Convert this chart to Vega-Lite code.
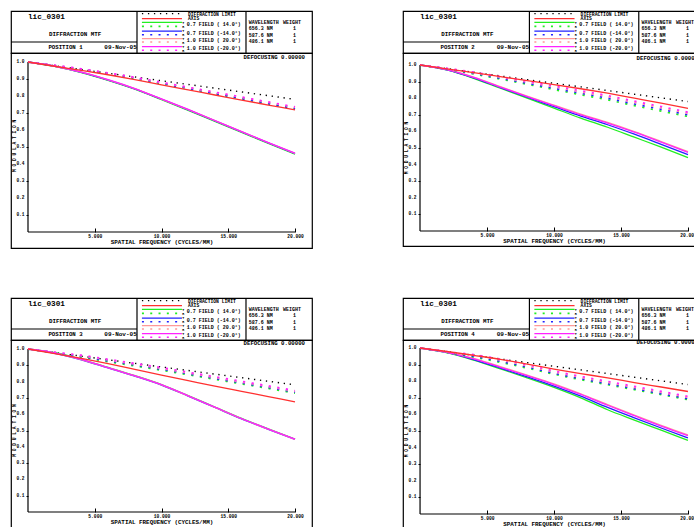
{
"$schema":"https://vega.github.io/schema/vega-lite/v6.json",
"background":"white",
"padding":{"left":9,"top":9,"right":0,"bottom":0},
"columns":2,
"bounds":"flush",
"spacing":{"row":0,"column":91},
"config":{
 "view":{"stroke":"black","strokeWidth":1.2},
 "font":"Liberation Mono",
 "text":{"font":"Liberation Mono","fontWeight":"bold","color":"black","align":"center","baseline":"middle","fontSize":5},
 "rule":{"color":"black","strokeWidth":1.2},
 "axis":{"labelFont":"Liberation Mono","titleFont":"Liberation Mono","labelFontWeight":"bold","titleFontWeight":"bold","labelColor":"black","titleColor":"black","tickColor":"black","grid":false,"domain":false,"labelOverlap":false,"labelFlush":false}
},
"datasets":{
"yt":[{"v":0.1},{"v":0.2},{"v":0.3},{"v":0.4},{"v":0.5},{"v":0.6},{"v":0.7},{"v":0.8},{"v":0.9},{"v":1.0}],
"mtf":[
{"p":1,"f":0,"DL":1,"AX":1,"T1":1,"T2":1,"T3":1,"T4":1,"R1":1,"R2":1,"R3":1,"R4":1},
{"p":1,"f":2,"DL":0.978,"AX":0.975,"T1":0.974,"T2":0.975,"T3":0.975,"T4":0.976,"R1":0.978,"R2":0.979,"R3":0.98,"R4":0.981},
{"p":1,"f":4,"DL":0.956,"AX":0.951,"T1":0.938,"T2":0.939,"T3":0.94,"T4":0.941,"R1":0.955,"R2":0.957,"R3":0.959,"R4":0.96},
{"p":1,"f":6,"DL":0.934,"AX":0.925,"T1":0.892,"T2":0.894,"T3":0.895,"T4":0.896,"R1":0.93,"R2":0.932,"R3":0.935,"R4":0.936},
{"p":1,"f":8,"DL":0.912,"AX":0.897,"T1":0.84,"T2":0.842,"T3":0.843,"T4":0.844,"R1":0.903,"R2":0.905,"R3":0.908,"R4":0.91},
{"p":1,"f":10,"DL":0.89,"AX":0.866,"T1":0.779,"T2":0.781,"T3":0.782,"T4":0.783,"R1":0.873,"R2":0.875,"R3":0.879,"R4":0.881},
{"p":1,"f":12,"DL":0.868,"AX":0.836,"T1":0.716,"T2":0.719,"T3":0.72,"T4":0.721,"R1":0.843,"R2":0.845,"R3":0.85,"R4":0.852},
{"p":1,"f":14,"DL":0.846,"AX":0.806,"T1":0.651,"T2":0.654,"T3":0.655,"T4":0.656,"R1":0.813,"R2":0.815,"R3":0.821,"R4":0.823},
{"p":1,"f":16,"DL":0.824,"AX":0.776,"T1":0.586,"T2":0.589,"T3":0.59,"T4":0.591,"R1":0.783,"R2":0.785,"R3":0.792,"R4":0.794},
{"p":1,"f":18,"DL":0.802,"AX":0.747,"T1":0.521,"T2":0.524,"T3":0.525,"T4":0.526,"R1":0.754,"R2":0.755,"R3":0.763,"R4":0.765},
{"p":1,"f":20,"DL":0.78,"AX":0.718,"T1":0.458,"T2":0.461,"T3":0.463,"T4":0.464,"R1":0.724,"R2":0.724,"R3":0.733,"R4":0.736},
{"p":2,"f":0,"DL":1,"AX":1,"T1":1,"T2":1,"T3":1,"T4":1,"R1":1,"R2":1,"R3":1,"R4":1},
{"p":2,"f":2,"DL":0.978,"AX":0.977,"T1":0.97,"T2":0.971,"T3":0.973,"T4":0.972,"R1":0.975,"R2":0.977,"R3":0.979,"R4":0.98},
{"p":2,"f":4,"DL":0.956,"AX":0.954,"T1":0.92,"T2":0.923,"T3":0.927,"T4":0.925,"R1":0.946,"R2":0.95,"R3":0.954,"R4":0.957},
{"p":2,"f":6,"DL":0.934,"AX":0.93,"T1":0.86,"T2":0.864,"T3":0.87,"T4":0.867,"R1":0.915,"R2":0.92,"R3":0.926,"R4":0.93},
{"p":2,"f":8,"DL":0.912,"AX":0.906,"T1":0.8,"T2":0.806,"T3":0.813,"T4":0.81,"R1":0.884,"R2":0.89,"R3":0.897,"R4":0.902},
{"p":2,"f":10,"DL":0.89,"AX":0.882,"T1":0.74,"T2":0.749,"T3":0.758,"T4":0.755,"R1":0.852,"R2":0.86,"R3":0.868,"R4":0.874},
{"p":2,"f":12,"DL":0.868,"AX":0.857,"T1":0.68,"T2":0.692,"T3":0.704,"T4":0.7,"R1":0.821,"R2":0.83,"R3":0.838,"R4":0.845},
{"p":2,"f":14,"DL":0.846,"AX":0.83,"T1":0.625,"T2":0.64,"T3":0.654,"T4":0.65,"R1":0.79,"R2":0.8,"R3":0.809,"R4":0.816},
{"p":2,"f":16,"DL":0.824,"AX":0.8,"T1":0.565,"T2":0.583,"T3":0.599,"T4":0.595,"R1":0.755,"R2":0.765,"R3":0.775,"R4":0.782},
{"p":2,"f":18,"DL":0.802,"AX":0.77,"T1":0.505,"T2":0.522,"T3":0.539,"T4":0.535,"R1":0.722,"R2":0.733,"R3":0.743,"R4":0.75},
{"p":2,"f":20,"DL":0.78,"AX":0.739,"T1":0.442,"T2":0.46,"T3":0.478,"T4":0.474,"R1":0.69,"R2":0.7,"R3":0.71,"R4":0.716},
{"p":3,"f":0,"DL":1,"AX":1,"T1":1,"T2":1,"T3":1,"T4":1,"R1":1,"R2":1,"R3":1,"R4":1},
{"p":3,"f":2,"DL":0.978,"AX":0.972,"T1":0.977,"T2":0.974,"T3":0.975,"T4":0.976,"R1":0.976,"R2":0.978,"R3":0.979,"R4":0.98},
{"p":3,"f":4,"DL":0.956,"AX":0.942,"T1":0.937,"T2":0.934,"T3":0.935,"T4":0.936,"R1":0.949,"R2":0.954,"R3":0.958,"R4":0.962},
{"p":3,"f":6,"DL":0.934,"AX":0.91,"T1":0.887,"T2":0.884,"T3":0.885,"T4":0.886,"R1":0.922,"R2":0.928,"R3":0.933,"R4":0.937},
{"p":3,"f":8,"DL":0.912,"AX":0.875,"T1":0.837,"T2":0.834,"T3":0.835,"T4":0.836,"R1":0.896,"R2":0.902,"R3":0.907,"R4":0.912},
{"p":3,"f":10,"DL":0.89,"AX":0.84,"T1":0.782,"T2":0.779,"T3":0.78,"T4":0.781,"R1":0.87,"R2":0.876,"R3":0.881,"R4":0.886},
{"p":3,"f":12,"DL":0.868,"AX":0.806,"T1":0.714,"T2":0.711,"T3":0.712,"T4":0.713,"R1":0.842,"R2":0.848,"R3":0.853,"R4":0.858},
{"p":3,"f":14,"DL":0.846,"AX":0.772,"T1":0.644,"T2":0.641,"T3":0.642,"T4":0.643,"R1":0.814,"R2":0.82,"R3":0.825,"R4":0.83},
{"p":3,"f":16,"DL":0.824,"AX":0.74,"T1":0.574,"T2":0.571,"T3":0.572,"T4":0.573,"R1":0.786,"R2":0.792,"R3":0.797,"R4":0.802},
{"p":3,"f":18,"DL":0.802,"AX":0.708,"T1":0.51,"T2":0.507,"T3":0.508,"T4":0.509,"R1":0.758,"R2":0.764,"R3":0.769,"R4":0.774},
{"p":3,"f":20,"DL":0.78,"AX":0.676,"T1":0.448,"T2":0.445,"T3":0.446,"T4":0.447,"R1":0.729,"R2":0.735,"R3":0.74,"R4":0.745},
{"p":4,"f":0,"DL":1,"AX":1,"T1":1,"T2":1,"T3":1,"T4":1,"R1":1,"R2":1,"R3":1,"R4":1},
{"p":4,"f":2,"DL":0.978,"AX":0.979,"T1":0.972,"T2":0.973,"T3":0.975,"T4":0.974,"R1":0.973,"R2":0.975,"R3":0.977,"R4":0.978},
{"p":4,"f":4,"DL":0.956,"AX":0.956,"T1":0.927,"T2":0.93,"T3":0.937,"T4":0.934,"R1":0.945,"R2":0.95,"R3":0.956,"R4":0.96},
{"p":4,"f":6,"DL":0.934,"AX":0.932,"T1":0.874,"T2":0.879,"T3":0.888,"T4":0.884,"R1":0.914,"R2":0.92,"R3":0.927,"R4":0.933},
{"p":4,"f":8,"DL":0.912,"AX":0.903,"T1":0.82,"T2":0.826,"T3":0.837,"T4":0.833,"R1":0.879,"R2":0.885,"R3":0.893,"R4":0.899},
{"p":4,"f":10,"DL":0.89,"AX":0.873,"T1":0.763,"T2":0.771,"T3":0.784,"T4":0.78,"R1":0.842,"R2":0.848,"R3":0.856,"R4":0.862},
{"p":4,"f":12,"DL":0.868,"AX":0.846,"T1":0.7,"T2":0.71,"T3":0.724,"T4":0.72,"R1":0.809,"R2":0.815,"R3":0.823,"R4":0.829},
{"p":4,"f":14,"DL":0.846,"AX":0.82,"T1":0.628,"T2":0.642,"T3":0.659,"T4":0.655,"R1":0.779,"R2":0.785,"R3":0.793,"R4":0.799},
{"p":4,"f":16,"DL":0.824,"AX":0.792,"T1":0.566,"T2":0.579,"T3":0.596,"T4":0.592,"R1":0.749,"R2":0.755,"R3":0.763,"R4":0.769},
{"p":4,"f":18,"DL":0.802,"AX":0.765,"T1":0.505,"T2":0.518,"T3":0.534,"T4":0.53,"R1":0.719,"R2":0.725,"R3":0.733,"R4":0.739},
{"p":4,"f":20,"DL":0.78,"AX":0.738,"T1":0.444,"T2":0.458,"T3":0.476,"T4":0.472,"R1":0.689,"R2":0.695,"R3":0.703,"R4":0.709}
]},
"concat":[
  {"width":301,"height":42,"data":{"values":[{}]},"layer":[
   {"mark":"rule","encoding":{"x":{"datum":41.86,"type":"quantitative","scale":{"domain":[0,100],"nice":false,"zero":false},"axis":null},"y":{"datum":0,"type":"quantitative","scale":{"domain":[0,100],"nice":false,"zero":false,"reverse":true},"axis":null},"y2":{"datum":100}}},
   {"mark":"rule","encoding":{"x":{"datum":78.07,"type":"quantitative","scale":{"domain":[0,100],"nice":false,"zero":false},"axis":null},"y":{"datum":0,"type":"quantitative","scale":{"domain":[0,100],"nice":false,"zero":false,"reverse":true},"axis":null},"y2":{"datum":100}}},
   {"mark":"rule","encoding":{"x":{"datum":0,"type":"quantitative","scale":{"domain":[0,100],"nice":false,"zero":false},"axis":null},"x2":{"datum":41.86},"y":{"datum":73.8,"type":"quantitative","scale":{"domain":[0,100],"nice":false,"zero":false,"reverse":true},"axis":null}}},
   {"mark":{"type":"text","text":"lic_0301","align":"left","fontSize":7.7},"encoding":{"x":{"datum":5.65,"type":"quantitative","scale":{"domain":[0,100],"nice":false,"zero":false},"axis":null},"y":{"datum":13.6,"type":"quantitative","scale":{"domain":[0,100],"nice":false,"zero":false,"reverse":true},"axis":null}}},
   {"mark":{"type":"text","text":"DIFFRACTION MTF","fontSize":5.8},"encoding":{"x":{"datum":21.3,"type":"quantitative","scale":{"domain":[0,100],"nice":false,"zero":false},"axis":null},"y":{"datum":54,"type":"quantitative","scale":{"domain":[0,100],"nice":false,"zero":false,"reverse":true},"axis":null}}},
   {"mark":{"type":"text","text":"POSITION 1","fontSize":5.7},"encoding":{"x":{"datum":18.1,"type":"quantitative","scale":{"domain":[0,100],"nice":false,"zero":false},"axis":null},"y":{"datum":85.7,"type":"quantitative","scale":{"domain":[0,100],"nice":false,"zero":false,"reverse":true},"axis":null}}},
   {"mark":{"type":"text","text":"09-Nov-05","fontSize":6},"encoding":{"x":{"datum":36.4,"type":"quantitative","scale":{"domain":[0,100],"nice":false,"zero":false},"axis":null},"y":{"datum":85.7,"type":"quantitative","scale":{"domain":[0,100],"nice":false,"zero":false,"reverse":true},"axis":null}}},
   {"mark":{"type":"rule","strokeDash":[1.3,4.7],"strokeWidth":1.3},"encoding":{"x":{"datum":43.5,"type":"quantitative","scale":{"domain":[0,100],"nice":false,"zero":false},"axis":null},"x2":{"datum":56.8},"y":{"datum":6.4,"type":"quantitative","scale":{"domain":[0,100],"nice":false,"zero":false,"reverse":true},"axis":null}}},
   {"mark":{"type":"rule","color":"#ff3030","strokeWidth":1.3},"encoding":{"x":{"datum":43.5,"type":"quantitative","scale":{"domain":[0,100],"nice":false,"zero":false},"axis":null},"x2":{"datum":56.8},"y":{"datum":18.3,"type":"quantitative","scale":{"domain":[0,100],"nice":false,"zero":false,"reverse":true},"axis":null}}},
   {"mark":{"type":"rule","color":"#22ee22","strokeWidth":1.3},"encoding":{"x":{"datum":43.5,"type":"quantitative","scale":{"domain":[0,100],"nice":false,"zero":false},"axis":null},"x2":{"datum":56.8},"y":{"datum":27,"type":"quantitative","scale":{"domain":[0,100],"nice":false,"zero":false,"reverse":true},"axis":null}}},
   {"mark":{"type":"rule","color":"#22ee22","strokeWidth":1.6,"strokeDash":[2,6.3]},"encoding":{"x":{"datum":43.5,"type":"quantitative","scale":{"domain":[0,100],"nice":false,"zero":false},"axis":null},"x2":{"datum":56.8},"y":{"datum":36.5,"type":"quantitative","scale":{"domain":[0,100],"nice":false,"zero":false,"reverse":true},"axis":null}}},
   {"mark":{"type":"rule","color":"#2222ff","strokeWidth":1.3},"encoding":{"x":{"datum":43.5,"type":"quantitative","scale":{"domain":[0,100],"nice":false,"zero":false},"axis":null},"x2":{"datum":56.8},"y":{"datum":47.7,"type":"quantitative","scale":{"domain":[0,100],"nice":false,"zero":false,"reverse":true},"axis":null}}},
   {"mark":{"type":"rule","color":"#2222ff","strokeWidth":1.6,"strokeDash":[2,6.3]},"encoding":{"x":{"datum":43.5,"type":"quantitative","scale":{"domain":[0,100],"nice":false,"zero":false},"axis":null},"x2":{"datum":56.8},"y":{"datum":56.4,"type":"quantitative","scale":{"domain":[0,100],"nice":false,"zero":false,"reverse":true},"axis":null}}},
   {"mark":{"type":"rule","color":"#ff9999","strokeWidth":1.3},"encoding":{"x":{"datum":43.5,"type":"quantitative","scale":{"domain":[0,100],"nice":false,"zero":false},"axis":null},"x2":{"datum":56.8},"y":{"datum":65.9,"type":"quantitative","scale":{"domain":[0,100],"nice":false,"zero":false,"reverse":true},"axis":null}}},
   {"mark":{"type":"rule","color":"#ff9999","strokeWidth":1.6,"strokeDash":[2,6.3]},"encoding":{"x":{"datum":43.5,"type":"quantitative","scale":{"domain":[0,100],"nice":false,"zero":false},"axis":null},"x2":{"datum":56.8},"y":{"datum":73.9,"type":"quantitative","scale":{"domain":[0,100],"nice":false,"zero":false,"reverse":true},"axis":null}}},
   {"mark":{"type":"rule","color":"#ff22ff","strokeWidth":1.3},"encoding":{"x":{"datum":43.5,"type":"quantitative","scale":{"domain":[0,100],"nice":false,"zero":false},"axis":null},"x2":{"datum":56.8},"y":{"datum":85,"type":"quantitative","scale":{"domain":[0,100],"nice":false,"zero":false,"reverse":true},"axis":null}}},
   {"mark":{"type":"rule","color":"#ff22ff","strokeWidth":1.6,"strokeDash":[2,6.3]},"encoding":{"x":{"datum":43.5,"type":"quantitative","scale":{"domain":[0,100],"nice":false,"zero":false},"axis":null},"x2":{"datum":56.8},"y":{"datum":93.6,"type":"quantitative","scale":{"domain":[0,100],"nice":false,"zero":false,"reverse":true},"axis":null}}},
   {"mark":{"type":"text","text":["DIFFRACTION LIMIT","AXIS"],"align":"left","baseline":"top","fontSize":4.7,"lineHeight":4.6},"encoding":{"x":{"datum":58.8,"type":"quantitative","scale":{"domain":[0,100],"nice":false,"zero":false},"axis":null},"y":{"datum":1.5,"type":"quantitative","scale":{"domain":[0,100],"nice":false,"zero":false,"reverse":true},"axis":null}}},
   {"mark":{"type":"text","text":"0.7 FIELD ( 14.0°)","align":"left","fontSize":5},"encoding":{"x":{"datum":58.4,"type":"quantitative","scale":{"domain":[0,100],"nice":false,"zero":false},"axis":null},"y":{"datum":31,"type":"quantitative","scale":{"domain":[0,100],"nice":false,"zero":false,"reverse":true},"axis":null}}},
   {"mark":{"type":"text","text":"0.7 FIELD (-14.0°)","align":"left","fontSize":5},"encoding":{"x":{"datum":58.4,"type":"quantitative","scale":{"domain":[0,100],"nice":false,"zero":false},"axis":null},"y":{"datum":51.6,"type":"quantitative","scale":{"domain":[0,100],"nice":false,"zero":false,"reverse":true},"axis":null}}},
   {"mark":{"type":"text","text":"1.0 FIELD ( 20.0°)","align":"left","fontSize":5},"encoding":{"x":{"datum":58.4,"type":"quantitative","scale":{"domain":[0,100],"nice":false,"zero":false},"axis":null},"y":{"datum":70,"type":"quantitative","scale":{"domain":[0,100],"nice":false,"zero":false,"reverse":true},"axis":null}}},
   {"mark":{"type":"text","text":"1.0 FIELD (-20.0°)","align":"left","fontSize":5},"encoding":{"x":{"datum":58.4,"type":"quantitative","scale":{"domain":[0,100],"nice":false,"zero":false},"axis":null},"y":{"datum":88,"type":"quantitative","scale":{"domain":[0,100],"nice":false,"zero":false,"reverse":true},"axis":null}}},
   {"mark":{"type":"text","text":["T","R"],"baseline":"top","fontSize":3.3,"lineHeight":4},"encoding":{"x":{"datum":57.2,"type":"quantitative","scale":{"domain":[0,100],"nice":false,"zero":false},"axis":null},"y":{"datum":23.4,"type":"quantitative","scale":{"domain":[0,100],"nice":false,"zero":false,"reverse":true},"axis":null}}},
   {"mark":{"type":"text","text":["T","R"],"baseline":"top","fontSize":3.3,"lineHeight":4},"encoding":{"x":{"datum":57.2,"type":"quantitative","scale":{"domain":[0,100],"nice":false,"zero":false},"axis":null},"y":{"datum":44,"type":"quantitative","scale":{"domain":[0,100],"nice":false,"zero":false,"reverse":true},"axis":null}}},
   {"mark":{"type":"text","text":["T","R"],"baseline":"top","fontSize":3.3,"lineHeight":4},"encoding":{"x":{"datum":57.2,"type":"quantitative","scale":{"domain":[0,100],"nice":false,"zero":false},"axis":null},"y":{"datum":62.4,"type":"quantitative","scale":{"domain":[0,100],"nice":false,"zero":false,"reverse":true},"axis":null}}},
   {"mark":{"type":"text","text":["T","R"],"baseline":"top","fontSize":3.3,"lineHeight":4},"encoding":{"x":{"datum":57.2,"type":"quantitative","scale":{"domain":[0,100],"nice":false,"zero":false},"axis":null},"y":{"datum":81.4,"type":"quantitative","scale":{"domain":[0,100],"nice":false,"zero":false,"reverse":true},"axis":null}}},
   {"mark":{"type":"text","text":"WAVELENGTH","align":"left","fontSize":5},"encoding":{"x":{"datum":79,"type":"quantitative","scale":{"domain":[0,100],"nice":false,"zero":false},"axis":null},"y":{"datum":26.2,"type":"quantitative","scale":{"domain":[0,100],"nice":false,"zero":false,"reverse":true},"axis":null}}},
   {"mark":{"type":"text","text":"WEIGHT","align":"left","fontSize":5},"encoding":{"x":{"datum":90.4,"type":"quantitative","scale":{"domain":[0,100],"nice":false,"zero":false},"axis":null},"y":{"datum":26.2,"type":"quantitative","scale":{"domain":[0,100],"nice":false,"zero":false,"reverse":true},"axis":null}}},
   {"mark":{"type":"text","text":["656.3 NM","587.6 NM","486.1 NM"],"align":"left","baseline":"top","fontSize":5,"lineHeight":6.9},"encoding":{"x":{"datum":79,"type":"quantitative","scale":{"domain":[0,100],"nice":false,"zero":false},"axis":null},"y":{"datum":35,"type":"quantitative","scale":{"domain":[0,100],"nice":false,"zero":false,"reverse":true},"axis":null}}},
   {"mark":{"type":"text","text":["1","1","1"],"align":"left","baseline":"top","fontSize":5,"lineHeight":6.9},"encoding":{"x":{"datum":93.7,"type":"quantitative","scale":{"domain":[0,100],"nice":false,"zero":false},"axis":null},"y":{"datum":35,"type":"quantitative","scale":{"domain":[0,100],"nice":false,"zero":false,"reverse":true},"axis":null}}}
  ]},
  {"width":302,"height":42,"data":{"values":[{}]},"layer":[
   {"mark":"rule","encoding":{"x":{"datum":41.86,"type":"quantitative","scale":{"domain":[0,100],"nice":false,"zero":false},"axis":null},"y":{"datum":0,"type":"quantitative","scale":{"domain":[0,100],"nice":false,"zero":false,"reverse":true},"axis":null},"y2":{"datum":100}}},
   {"mark":"rule","encoding":{"x":{"datum":78.07,"type":"quantitative","scale":{"domain":[0,100],"nice":false,"zero":false},"axis":null},"y":{"datum":0,"type":"quantitative","scale":{"domain":[0,100],"nice":false,"zero":false,"reverse":true},"axis":null},"y2":{"datum":100}}},
   {"mark":"rule","encoding":{"x":{"datum":0,"type":"quantitative","scale":{"domain":[0,100],"nice":false,"zero":false},"axis":null},"x2":{"datum":41.86},"y":{"datum":73.8,"type":"quantitative","scale":{"domain":[0,100],"nice":false,"zero":false,"reverse":true},"axis":null}}},
   {"mark":{"type":"text","text":"lic_0301","align":"left","fontSize":7.7},"encoding":{"x":{"datum":5.65,"type":"quantitative","scale":{"domain":[0,100],"nice":false,"zero":false},"axis":null},"y":{"datum":13.6,"type":"quantitative","scale":{"domain":[0,100],"nice":false,"zero":false,"reverse":true},"axis":null}}},
   {"mark":{"type":"text","text":"DIFFRACTION MTF","fontSize":5.8},"encoding":{"x":{"datum":21.3,"type":"quantitative","scale":{"domain":[0,100],"nice":false,"zero":false},"axis":null},"y":{"datum":54,"type":"quantitative","scale":{"domain":[0,100],"nice":false,"zero":false,"reverse":true},"axis":null}}},
   {"mark":{"type":"text","text":"POSITION 2","fontSize":5.7},"encoding":{"x":{"datum":18.1,"type":"quantitative","scale":{"domain":[0,100],"nice":false,"zero":false},"axis":null},"y":{"datum":85.7,"type":"quantitative","scale":{"domain":[0,100],"nice":false,"zero":false,"reverse":true},"axis":null}}},
   {"mark":{"type":"text","text":"09-Nov-05","fontSize":6},"encoding":{"x":{"datum":36.4,"type":"quantitative","scale":{"domain":[0,100],"nice":false,"zero":false},"axis":null},"y":{"datum":85.7,"type":"quantitative","scale":{"domain":[0,100],"nice":false,"zero":false,"reverse":true},"axis":null}}},
   {"mark":{"type":"rule","strokeDash":[1.3,4.7],"strokeWidth":1.3},"encoding":{"x":{"datum":43.5,"type":"quantitative","scale":{"domain":[0,100],"nice":false,"zero":false},"axis":null},"x2":{"datum":56.8},"y":{"datum":6.4,"type":"quantitative","scale":{"domain":[0,100],"nice":false,"zero":false,"reverse":true},"axis":null}}},
   {"mark":{"type":"rule","color":"#ff3030","strokeWidth":1.3},"encoding":{"x":{"datum":43.5,"type":"quantitative","scale":{"domain":[0,100],"nice":false,"zero":false},"axis":null},"x2":{"datum":56.8},"y":{"datum":18.3,"type":"quantitative","scale":{"domain":[0,100],"nice":false,"zero":false,"reverse":true},"axis":null}}},
   {"mark":{"type":"rule","color":"#22ee22","strokeWidth":1.3},"encoding":{"x":{"datum":43.5,"type":"quantitative","scale":{"domain":[0,100],"nice":false,"zero":false},"axis":null},"x2":{"datum":56.8},"y":{"datum":27,"type":"quantitative","scale":{"domain":[0,100],"nice":false,"zero":false,"reverse":true},"axis":null}}},
   {"mark":{"type":"rule","color":"#22ee22","strokeWidth":1.6,"strokeDash":[2,6.3]},"encoding":{"x":{"datum":43.5,"type":"quantitative","scale":{"domain":[0,100],"nice":false,"zero":false},"axis":null},"x2":{"datum":56.8},"y":{"datum":36.5,"type":"quantitative","scale":{"domain":[0,100],"nice":false,"zero":false,"reverse":true},"axis":null}}},
   {"mark":{"type":"rule","color":"#2222ff","strokeWidth":1.3},"encoding":{"x":{"datum":43.5,"type":"quantitative","scale":{"domain":[0,100],"nice":false,"zero":false},"axis":null},"x2":{"datum":56.8},"y":{"datum":47.7,"type":"quantitative","scale":{"domain":[0,100],"nice":false,"zero":false,"reverse":true},"axis":null}}},
   {"mark":{"type":"rule","color":"#2222ff","strokeWidth":1.6,"strokeDash":[2,6.3]},"encoding":{"x":{"datum":43.5,"type":"quantitative","scale":{"domain":[0,100],"nice":false,"zero":false},"axis":null},"x2":{"datum":56.8},"y":{"datum":56.4,"type":"quantitative","scale":{"domain":[0,100],"nice":false,"zero":false,"reverse":true},"axis":null}}},
   {"mark":{"type":"rule","color":"#ff9999","strokeWidth":1.3},"encoding":{"x":{"datum":43.5,"type":"quantitative","scale":{"domain":[0,100],"nice":false,"zero":false},"axis":null},"x2":{"datum":56.8},"y":{"datum":65.9,"type":"quantitative","scale":{"domain":[0,100],"nice":false,"zero":false,"reverse":true},"axis":null}}},
   {"mark":{"type":"rule","color":"#ff9999","strokeWidth":1.6,"strokeDash":[2,6.3]},"encoding":{"x":{"datum":43.5,"type":"quantitative","scale":{"domain":[0,100],"nice":false,"zero":false},"axis":null},"x2":{"datum":56.8},"y":{"datum":73.9,"type":"quantitative","scale":{"domain":[0,100],"nice":false,"zero":false,"reverse":true},"axis":null}}},
   {"mark":{"type":"rule","color":"#ff22ff","strokeWidth":1.3},"encoding":{"x":{"datum":43.5,"type":"quantitative","scale":{"domain":[0,100],"nice":false,"zero":false},"axis":null},"x2":{"datum":56.8},"y":{"datum":85,"type":"quantitative","scale":{"domain":[0,100],"nice":false,"zero":false,"reverse":true},"axis":null}}},
   {"mark":{"type":"rule","color":"#ff22ff","strokeWidth":1.6,"strokeDash":[2,6.3]},"encoding":{"x":{"datum":43.5,"type":"quantitative","scale":{"domain":[0,100],"nice":false,"zero":false},"axis":null},"x2":{"datum":56.8},"y":{"datum":93.6,"type":"quantitative","scale":{"domain":[0,100],"nice":false,"zero":false,"reverse":true},"axis":null}}},
   {"mark":{"type":"text","text":["DIFFRACTION LIMIT","AXIS"],"align":"left","baseline":"top","fontSize":4.7,"lineHeight":4.6},"encoding":{"x":{"datum":58.8,"type":"quantitative","scale":{"domain":[0,100],"nice":false,"zero":false},"axis":null},"y":{"datum":1.5,"type":"quantitative","scale":{"domain":[0,100],"nice":false,"zero":false,"reverse":true},"axis":null}}},
   {"mark":{"type":"text","text":"0.7 FIELD ( 14.0°)","align":"left","fontSize":5},"encoding":{"x":{"datum":58.4,"type":"quantitative","scale":{"domain":[0,100],"nice":false,"zero":false},"axis":null},"y":{"datum":31,"type":"quantitative","scale":{"domain":[0,100],"nice":false,"zero":false,"reverse":true},"axis":null}}},
   {"mark":{"type":"text","text":"0.7 FIELD (-14.0°)","align":"left","fontSize":5},"encoding":{"x":{"datum":58.4,"type":"quantitative","scale":{"domain":[0,100],"nice":false,"zero":false},"axis":null},"y":{"datum":51.6,"type":"quantitative","scale":{"domain":[0,100],"nice":false,"zero":false,"reverse":true},"axis":null}}},
   {"mark":{"type":"text","text":"1.0 FIELD ( 20.0°)","align":"left","fontSize":5},"encoding":{"x":{"datum":58.4,"type":"quantitative","scale":{"domain":[0,100],"nice":false,"zero":false},"axis":null},"y":{"datum":70,"type":"quantitative","scale":{"domain":[0,100],"nice":false,"zero":false,"reverse":true},"axis":null}}},
   {"mark":{"type":"text","text":"1.0 FIELD (-20.0°)","align":"left","fontSize":5},"encoding":{"x":{"datum":58.4,"type":"quantitative","scale":{"domain":[0,100],"nice":false,"zero":false},"axis":null},"y":{"datum":88,"type":"quantitative","scale":{"domain":[0,100],"nice":false,"zero":false,"reverse":true},"axis":null}}},
   {"mark":{"type":"text","text":["T","R"],"baseline":"top","fontSize":3.3,"lineHeight":4},"encoding":{"x":{"datum":57.2,"type":"quantitative","scale":{"domain":[0,100],"nice":false,"zero":false},"axis":null},"y":{"datum":23.4,"type":"quantitative","scale":{"domain":[0,100],"nice":false,"zero":false,"reverse":true},"axis":null}}},
   {"mark":{"type":"text","text":["T","R"],"baseline":"top","fontSize":3.3,"lineHeight":4},"encoding":{"x":{"datum":57.2,"type":"quantitative","scale":{"domain":[0,100],"nice":false,"zero":false},"axis":null},"y":{"datum":44,"type":"quantitative","scale":{"domain":[0,100],"nice":false,"zero":false,"reverse":true},"axis":null}}},
   {"mark":{"type":"text","text":["T","R"],"baseline":"top","fontSize":3.3,"lineHeight":4},"encoding":{"x":{"datum":57.2,"type":"quantitative","scale":{"domain":[0,100],"nice":false,"zero":false},"axis":null},"y":{"datum":62.4,"type":"quantitative","scale":{"domain":[0,100],"nice":false,"zero":false,"reverse":true},"axis":null}}},
   {"mark":{"type":"text","text":["T","R"],"baseline":"top","fontSize":3.3,"lineHeight":4},"encoding":{"x":{"datum":57.2,"type":"quantitative","scale":{"domain":[0,100],"nice":false,"zero":false},"axis":null},"y":{"datum":81.4,"type":"quantitative","scale":{"domain":[0,100],"nice":false,"zero":false,"reverse":true},"axis":null}}},
   {"mark":{"type":"text","text":"WAVELENGTH","align":"left","fontSize":5},"encoding":{"x":{"datum":79,"type":"quantitative","scale":{"domain":[0,100],"nice":false,"zero":false},"axis":null},"y":{"datum":26.2,"type":"quantitative","scale":{"domain":[0,100],"nice":false,"zero":false,"reverse":true},"axis":null}}},
   {"mark":{"type":"text","text":"WEIGHT","align":"left","fontSize":5},"encoding":{"x":{"datum":90.4,"type":"quantitative","scale":{"domain":[0,100],"nice":false,"zero":false},"axis":null},"y":{"datum":26.2,"type":"quantitative","scale":{"domain":[0,100],"nice":false,"zero":false,"reverse":true},"axis":null}}},
   {"mark":{"type":"text","text":["656.3 NM","587.6 NM","486.1 NM"],"align":"left","baseline":"top","fontSize":5,"lineHeight":6.9},"encoding":{"x":{"datum":79,"type":"quantitative","scale":{"domain":[0,100],"nice":false,"zero":false},"axis":null},"y":{"datum":35,"type":"quantitative","scale":{"domain":[0,100],"nice":false,"zero":false,"reverse":true},"axis":null}}},
   {"mark":{"type":"text","text":["1","1","1"],"align":"left","baseline":"top","fontSize":5,"lineHeight":6.9},"encoding":{"x":{"datum":93.7,"type":"quantitative","scale":{"domain":[0,100],"nice":false,"zero":false},"axis":null},"y":{"datum":35,"type":"quantitative","scale":{"domain":[0,100],"nice":false,"zero":false,"reverse":true},"axis":null}}}
  ]},
  {"width":301,"height":195,"layer":[
   {"data":{"values":[{}]},"mark":"rule","encoding":{"x":{"datum":0,"type":"quantitative","scale":{"domain":[-1.273,21.273],"nice":false,"zero":false},"title":"SPATIAL FREQUENCY (CYCLES/MM)","axis":{"values":[5,10,15,20],"format":".3f","offset":-16,"tickSize":-4,"tickWidth":1,"labelPadding":5.5,"labelFontSize":4.6,"labelFlush":false,"labelOverlap":false,"titleFontSize":5.9,"titlePadding":0.5}},"y":{"datum":0,"type":"quantitative","scale":{"domain":[-0.094,1.053],"nice":false,"zero":false},"title":null,"axis":{"values":[0.1,0.2,0.3,0.4,0.5,0.6,0.7,0.8,0.9,1],"labels":false,"offset":-17,"tickSize":2,"tickWidth":1}},"y2":{"datum":1}}},
   {"data":{"values":[{}]},"mark":"rule","encoding":{"x":{"datum":0,"type":"quantitative","scale":{"domain":[-1.273,21.273],"nice":false,"zero":false},"title":"SPATIAL FREQUENCY (CYCLES/MM)"},"x2":{"datum":20},"y":{"datum":0,"type":"quantitative","scale":{"domain":[-0.094,1.053],"nice":false,"zero":false},"title":null}}},
   {"data":{"name":"yt"},"mark":{"type":"text","align":"right","fontSize":4.5},"encoding":{"x":{"datum":-0.26,"type":"quantitative","scale":{"domain":[-1.273,21.273],"nice":false,"zero":false},"title":"SPATIAL FREQUENCY (CYCLES/MM)"},"y":{"field":"v","type":"quantitative","scale":{"domain":[-0.094,1.053],"nice":false,"zero":false},"title":null},"text":{"field":"v","type":"quantitative","format":".1f"}}},
   {"data":{"values":[{}]},"mark":{"type":"text","text":"M O D U L A T I O N","angle":270,"fontSize":4.6},"encoding":{"x":{"datum":-0.97,"type":"quantitative","scale":{"domain":[-1.273,21.273],"nice":false,"zero":false},"title":"SPATIAL FREQUENCY (CYCLES/MM)"},"y":{"datum":0.507,"type":"quantitative","scale":{"domain":[-0.094,1.053],"nice":false,"zero":false},"title":null}}},
   {"data":{"values":[{}]},"mark":{"type":"text","text":"DEFOCUSING 0.00000","align":"right","fontSize":5.7},"encoding":{"x":{"datum":20.75,"type":"quantitative","scale":{"domain":[-1.273,21.273],"nice":false,"zero":false},"title":"SPATIAL FREQUENCY (CYCLES/MM)"},"y":{"datum":1.029,"type":"quantitative","scale":{"domain":[-0.094,1.053],"nice":false,"zero":false},"title":null}}},
   {"data":{"name":"mtf"},"transform":[{"filter":"datum.p==1"}],"mark":{"type":"line","color":"black","strokeDash":[1.3,4.7],"strokeWidth":1.4,"interpolate":"monotone"},"encoding":{"x":{"field":"f","type":"quantitative","scale":{"domain":[-1.273,21.273],"nice":false,"zero":false},"title":"SPATIAL FREQUENCY (CYCLES/MM)"},"y":{"field":"DL","type":"quantitative","scale":{"domain":[-0.094,1.053],"nice":false,"zero":false},"title":null}}},
   {"data":{"name":"mtf"},"transform":[{"filter":"datum.p==1"},{"fold":["T1","T2","T3","T4"],"as":["s","m"]}],"mark":{"type":"line","strokeWidth":1.3,"interpolate":"monotone"},"encoding":{"x":{"field":"f","type":"quantitative","scale":{"domain":[-1.273,21.273],"nice":false,"zero":false},"title":"SPATIAL FREQUENCY (CYCLES/MM)"},"y":{"field":"m","type":"quantitative","scale":{"domain":[-0.094,1.053],"nice":false,"zero":false},"title":null},"color":{"field":"s","type":"nominal","scale":{"domain":["T1","T2","T3","T4","R1","R2","R3","R4"],"range":["#22ee22","#2222ff","#ff9999","#ff22ff","#22ee22","#2222ff","#ff9999","#ff22ff"]},"legend":null}}},
   {"data":{"name":"mtf"},"transform":[{"filter":"datum.p==1"},{"fold":["R1","R2","R3","R4"],"as":["s","m"]}],"mark":{"type":"line","strokeWidth":1.7,"strokeDash":[2.2,6.5],"interpolate":"monotone"},"encoding":{"x":{"field":"f","type":"quantitative","scale":{"domain":[-1.273,21.273],"nice":false,"zero":false},"title":"SPATIAL FREQUENCY (CYCLES/MM)"},"y":{"field":"m","type":"quantitative","scale":{"domain":[-0.094,1.053],"nice":false,"zero":false},"title":null},"color":{"field":"s","type":"nominal","scale":{"domain":["T1","T2","T3","T4","R1","R2","R3","R4"],"range":["#22ee22","#2222ff","#ff9999","#ff22ff","#22ee22","#2222ff","#ff9999","#ff22ff"]},"legend":null}}},
   {"data":{"name":"mtf"},"transform":[{"filter":"datum.p==1"}],"mark":{"type":"line","color":"#ff3030","strokeWidth":1.3,"interpolate":"monotone"},"encoding":{"x":{"field":"f","type":"quantitative","scale":{"domain":[-1.273,21.273],"nice":false,"zero":false},"title":"SPATIAL FREQUENCY (CYCLES/MM)"},"y":{"field":"AX","type":"quantitative","scale":{"domain":[-0.094,1.053],"nice":false,"zero":false},"title":null}}}
  ]},
  {"width":302,"height":193,"layer":[
   {"data":{"values":[{}]},"mark":"rule","encoding":{"x":{"datum":0,"type":"quantitative","scale":{"domain":[-1.269,21.269],"nice":false,"zero":false},"title":"SPATIAL FREQUENCY (CYCLES/MM)","axis":{"values":[5,10,15,20],"format":".3f","offset":-15,"tickSize":-4,"tickWidth":1,"labelPadding":5.5,"labelFontSize":4.6,"labelFlush":false,"labelOverlap":false,"titleFontSize":5.9,"titlePadding":0.5}},"y":{"datum":0,"type":"quantitative","scale":{"domain":[-0.0904,1.0723],"nice":false,"zero":false},"title":null,"axis":{"values":[0.1,0.2,0.3,0.4,0.5,0.6,0.7,0.8,0.9,1],"labels":false,"offset":-17,"tickSize":2,"tickWidth":1}},"y2":{"datum":1}}},
   {"data":{"values":[{}]},"mark":"rule","encoding":{"x":{"datum":0,"type":"quantitative","scale":{"domain":[-1.269,21.269],"nice":false,"zero":false},"title":"SPATIAL FREQUENCY (CYCLES/MM)"},"x2":{"datum":20},"y":{"datum":0,"type":"quantitative","scale":{"domain":[-0.0904,1.0723],"nice":false,"zero":false},"title":null}}},
   {"data":{"name":"yt"},"mark":{"type":"text","align":"right","fontSize":4.5},"encoding":{"x":{"datum":-0.26,"type":"quantitative","scale":{"domain":[-1.269,21.269],"nice":false,"zero":false},"title":"SPATIAL FREQUENCY (CYCLES/MM)"},"y":{"field":"v","type":"quantitative","scale":{"domain":[-0.0904,1.0723],"nice":false,"zero":false},"title":null},"text":{"field":"v","type":"quantitative","format":".1f"}}},
   {"data":{"values":[{}]},"mark":{"type":"text","text":"M O D U L A T I O N","angle":270,"fontSize":4.6},"encoding":{"x":{"datum":-0.97,"type":"quantitative","scale":{"domain":[-1.269,21.269],"nice":false,"zero":false},"title":"SPATIAL FREQUENCY (CYCLES/MM)"},"y":{"datum":0.5,"type":"quantitative","scale":{"domain":[-0.0904,1.0723],"nice":false,"zero":false},"title":null}}},
   {"data":{"values":[{}]},"mark":{"type":"text","text":"DEFOCUSING 0.00000","align":"right","fontSize":5.7},"encoding":{"x":{"datum":20.75,"type":"quantitative","scale":{"domain":[-1.269,21.269],"nice":false,"zero":false},"title":"SPATIAL FREQUENCY (CYCLES/MM)"},"y":{"datum":1.04,"type":"quantitative","scale":{"domain":[-0.0904,1.0723],"nice":false,"zero":false},"title":null}}},
   {"data":{"name":"mtf"},"transform":[{"filter":"datum.p==2"}],"mark":{"type":"line","color":"black","strokeDash":[1.3,4.7],"strokeWidth":1.4,"interpolate":"monotone"},"encoding":{"x":{"field":"f","type":"quantitative","scale":{"domain":[-1.269,21.269],"nice":false,"zero":false},"title":"SPATIAL FREQUENCY (CYCLES/MM)"},"y":{"field":"DL","type":"quantitative","scale":{"domain":[-0.0904,1.0723],"nice":false,"zero":false},"title":null}}},
   {"data":{"name":"mtf"},"transform":[{"filter":"datum.p==2"},{"fold":["T1","T2","T3","T4"],"as":["s","m"]}],"mark":{"type":"line","strokeWidth":1.3,"interpolate":"monotone"},"encoding":{"x":{"field":"f","type":"quantitative","scale":{"domain":[-1.269,21.269],"nice":false,"zero":false},"title":"SPATIAL FREQUENCY (CYCLES/MM)"},"y":{"field":"m","type":"quantitative","scale":{"domain":[-0.0904,1.0723],"nice":false,"zero":false},"title":null},"color":{"field":"s","type":"nominal","scale":{"domain":["T1","T2","T3","T4","R1","R2","R3","R4"],"range":["#22ee22","#2222ff","#ff9999","#ff22ff","#22ee22","#2222ff","#ff9999","#ff22ff"]},"legend":null}}},
   {"data":{"name":"mtf"},"transform":[{"filter":"datum.p==2"},{"fold":["R1","R2","R3","R4"],"as":["s","m"]}],"mark":{"type":"line","strokeWidth":1.7,"strokeDash":[2.2,6.5],"interpolate":"monotone"},"encoding":{"x":{"field":"f","type":"quantitative","scale":{"domain":[-1.269,21.269],"nice":false,"zero":false},"title":"SPATIAL FREQUENCY (CYCLES/MM)"},"y":{"field":"m","type":"quantitative","scale":{"domain":[-0.0904,1.0723],"nice":false,"zero":false},"title":null},"color":{"field":"s","type":"nominal","scale":{"domain":["T1","T2","T3","T4","R1","R2","R3","R4"],"range":["#22ee22","#2222ff","#ff9999","#ff22ff","#22ee22","#2222ff","#ff9999","#ff22ff"]},"legend":null}}},
   {"data":{"name":"mtf"},"transform":[{"filter":"datum.p==2"}],"mark":{"type":"line","color":"#ff3030","strokeWidth":1.3,"interpolate":"monotone"},"encoding":{"x":{"field":"f","type":"quantitative","scale":{"domain":[-1.269,21.269],"nice":false,"zero":false},"title":"SPATIAL FREQUENCY (CYCLES/MM)"},"y":{"field":"AX","type":"quantitative","scale":{"domain":[-0.0904,1.0723],"nice":false,"zero":false},"title":null}}}
  ]},
  {"width":301,"height":50,"data":{"values":[{}]},"mark":{"type":"point","opacity":0},"view":{"stroke":null}},
  {"width":302,"height":50,"data":{"values":[{}]},"mark":{"type":"point","opacity":0},"view":{"stroke":null}},
  {"width":301,"height":42,"data":{"values":[{}]},"layer":[
   {"mark":"rule","encoding":{"x":{"datum":41.86,"type":"quantitative","scale":{"domain":[0,100],"nice":false,"zero":false},"axis":null},"y":{"datum":0,"type":"quantitative","scale":{"domain":[0,100],"nice":false,"zero":false,"reverse":true},"axis":null},"y2":{"datum":100}}},
   {"mark":"rule","encoding":{"x":{"datum":78.07,"type":"quantitative","scale":{"domain":[0,100],"nice":false,"zero":false},"axis":null},"y":{"datum":0,"type":"quantitative","scale":{"domain":[0,100],"nice":false,"zero":false,"reverse":true},"axis":null},"y2":{"datum":100}}},
   {"mark":"rule","encoding":{"x":{"datum":0,"type":"quantitative","scale":{"domain":[0,100],"nice":false,"zero":false},"axis":null},"x2":{"datum":41.86},"y":{"datum":73.8,"type":"quantitative","scale":{"domain":[0,100],"nice":false,"zero":false,"reverse":true},"axis":null}}},
   {"mark":{"type":"text","text":"lic_0301","align":"left","fontSize":7.7},"encoding":{"x":{"datum":5.65,"type":"quantitative","scale":{"domain":[0,100],"nice":false,"zero":false},"axis":null},"y":{"datum":13.6,"type":"quantitative","scale":{"domain":[0,100],"nice":false,"zero":false,"reverse":true},"axis":null}}},
   {"mark":{"type":"text","text":"DIFFRACTION MTF","fontSize":5.8},"encoding":{"x":{"datum":21.3,"type":"quantitative","scale":{"domain":[0,100],"nice":false,"zero":false},"axis":null},"y":{"datum":54,"type":"quantitative","scale":{"domain":[0,100],"nice":false,"zero":false,"reverse":true},"axis":null}}},
   {"mark":{"type":"text","text":"POSITION 3","fontSize":5.7},"encoding":{"x":{"datum":18.1,"type":"quantitative","scale":{"domain":[0,100],"nice":false,"zero":false},"axis":null},"y":{"datum":85.7,"type":"quantitative","scale":{"domain":[0,100],"nice":false,"zero":false,"reverse":true},"axis":null}}},
   {"mark":{"type":"text","text":"09-Nov-05","fontSize":6},"encoding":{"x":{"datum":36.4,"type":"quantitative","scale":{"domain":[0,100],"nice":false,"zero":false},"axis":null},"y":{"datum":85.7,"type":"quantitative","scale":{"domain":[0,100],"nice":false,"zero":false,"reverse":true},"axis":null}}},
   {"mark":{"type":"rule","strokeDash":[1.3,4.7],"strokeWidth":1.3},"encoding":{"x":{"datum":43.5,"type":"quantitative","scale":{"domain":[0,100],"nice":false,"zero":false},"axis":null},"x2":{"datum":56.8},"y":{"datum":6.4,"type":"quantitative","scale":{"domain":[0,100],"nice":false,"zero":false,"reverse":true},"axis":null}}},
   {"mark":{"type":"rule","color":"#ff3030","strokeWidth":1.3},"encoding":{"x":{"datum":43.5,"type":"quantitative","scale":{"domain":[0,100],"nice":false,"zero":false},"axis":null},"x2":{"datum":56.8},"y":{"datum":18.3,"type":"quantitative","scale":{"domain":[0,100],"nice":false,"zero":false,"reverse":true},"axis":null}}},
   {"mark":{"type":"rule","color":"#22ee22","strokeWidth":1.3},"encoding":{"x":{"datum":43.5,"type":"quantitative","scale":{"domain":[0,100],"nice":false,"zero":false},"axis":null},"x2":{"datum":56.8},"y":{"datum":27,"type":"quantitative","scale":{"domain":[0,100],"nice":false,"zero":false,"reverse":true},"axis":null}}},
   {"mark":{"type":"rule","color":"#22ee22","strokeWidth":1.6,"strokeDash":[2,6.3]},"encoding":{"x":{"datum":43.5,"type":"quantitative","scale":{"domain":[0,100],"nice":false,"zero":false},"axis":null},"x2":{"datum":56.8},"y":{"datum":36.5,"type":"quantitative","scale":{"domain":[0,100],"nice":false,"zero":false,"reverse":true},"axis":null}}},
   {"mark":{"type":"rule","color":"#2222ff","strokeWidth":1.3},"encoding":{"x":{"datum":43.5,"type":"quantitative","scale":{"domain":[0,100],"nice":false,"zero":false},"axis":null},"x2":{"datum":56.8},"y":{"datum":47.7,"type":"quantitative","scale":{"domain":[0,100],"nice":false,"zero":false,"reverse":true},"axis":null}}},
   {"mark":{"type":"rule","color":"#2222ff","strokeWidth":1.6,"strokeDash":[2,6.3]},"encoding":{"x":{"datum":43.5,"type":"quantitative","scale":{"domain":[0,100],"nice":false,"zero":false},"axis":null},"x2":{"datum":56.8},"y":{"datum":56.4,"type":"quantitative","scale":{"domain":[0,100],"nice":false,"zero":false,"reverse":true},"axis":null}}},
   {"mark":{"type":"rule","color":"#ff9999","strokeWidth":1.3},"encoding":{"x":{"datum":43.5,"type":"quantitative","scale":{"domain":[0,100],"nice":false,"zero":false},"axis":null},"x2":{"datum":56.8},"y":{"datum":65.9,"type":"quantitative","scale":{"domain":[0,100],"nice":false,"zero":false,"reverse":true},"axis":null}}},
   {"mark":{"type":"rule","color":"#ff9999","strokeWidth":1.6,"strokeDash":[2,6.3]},"encoding":{"x":{"datum":43.5,"type":"quantitative","scale":{"domain":[0,100],"nice":false,"zero":false},"axis":null},"x2":{"datum":56.8},"y":{"datum":73.9,"type":"quantitative","scale":{"domain":[0,100],"nice":false,"zero":false,"reverse":true},"axis":null}}},
   {"mark":{"type":"rule","color":"#ff22ff","strokeWidth":1.3},"encoding":{"x":{"datum":43.5,"type":"quantitative","scale":{"domain":[0,100],"nice":false,"zero":false},"axis":null},"x2":{"datum":56.8},"y":{"datum":85,"type":"quantitative","scale":{"domain":[0,100],"nice":false,"zero":false,"reverse":true},"axis":null}}},
   {"mark":{"type":"rule","color":"#ff22ff","strokeWidth":1.6,"strokeDash":[2,6.3]},"encoding":{"x":{"datum":43.5,"type":"quantitative","scale":{"domain":[0,100],"nice":false,"zero":false},"axis":null},"x2":{"datum":56.8},"y":{"datum":93.6,"type":"quantitative","scale":{"domain":[0,100],"nice":false,"zero":false,"reverse":true},"axis":null}}},
   {"mark":{"type":"text","text":["DIFFRACTION LIMIT","AXIS"],"align":"left","baseline":"top","fontSize":4.7,"lineHeight":4.6},"encoding":{"x":{"datum":58.8,"type":"quantitative","scale":{"domain":[0,100],"nice":false,"zero":false},"axis":null},"y":{"datum":1.5,"type":"quantitative","scale":{"domain":[0,100],"nice":false,"zero":false,"reverse":true},"axis":null}}},
   {"mark":{"type":"text","text":"0.7 FIELD ( 14.0°)","align":"left","fontSize":5},"encoding":{"x":{"datum":58.4,"type":"quantitative","scale":{"domain":[0,100],"nice":false,"zero":false},"axis":null},"y":{"datum":31,"type":"quantitative","scale":{"domain":[0,100],"nice":false,"zero":false,"reverse":true},"axis":null}}},
   {"mark":{"type":"text","text":"0.7 FIELD (-14.0°)","align":"left","fontSize":5},"encoding":{"x":{"datum":58.4,"type":"quantitative","scale":{"domain":[0,100],"nice":false,"zero":false},"axis":null},"y":{"datum":51.6,"type":"quantitative","scale":{"domain":[0,100],"nice":false,"zero":false,"reverse":true},"axis":null}}},
   {"mark":{"type":"text","text":"1.0 FIELD ( 20.0°)","align":"left","fontSize":5},"encoding":{"x":{"datum":58.4,"type":"quantitative","scale":{"domain":[0,100],"nice":false,"zero":false},"axis":null},"y":{"datum":70,"type":"quantitative","scale":{"domain":[0,100],"nice":false,"zero":false,"reverse":true},"axis":null}}},
   {"mark":{"type":"text","text":"1.0 FIELD (-20.0°)","align":"left","fontSize":5},"encoding":{"x":{"datum":58.4,"type":"quantitative","scale":{"domain":[0,100],"nice":false,"zero":false},"axis":null},"y":{"datum":88,"type":"quantitative","scale":{"domain":[0,100],"nice":false,"zero":false,"reverse":true},"axis":null}}},
   {"mark":{"type":"text","text":["T","R"],"baseline":"top","fontSize":3.3,"lineHeight":4},"encoding":{"x":{"datum":57.2,"type":"quantitative","scale":{"domain":[0,100],"nice":false,"zero":false},"axis":null},"y":{"datum":23.4,"type":"quantitative","scale":{"domain":[0,100],"nice":false,"zero":false,"reverse":true},"axis":null}}},
   {"mark":{"type":"text","text":["T","R"],"baseline":"top","fontSize":3.3,"lineHeight":4},"encoding":{"x":{"datum":57.2,"type":"quantitative","scale":{"domain":[0,100],"nice":false,"zero":false},"axis":null},"y":{"datum":44,"type":"quantitative","scale":{"domain":[0,100],"nice":false,"zero":false,"reverse":true},"axis":null}}},
   {"mark":{"type":"text","text":["T","R"],"baseline":"top","fontSize":3.3,"lineHeight":4},"encoding":{"x":{"datum":57.2,"type":"quantitative","scale":{"domain":[0,100],"nice":false,"zero":false},"axis":null},"y":{"datum":62.4,"type":"quantitative","scale":{"domain":[0,100],"nice":false,"zero":false,"reverse":true},"axis":null}}},
   {"mark":{"type":"text","text":["T","R"],"baseline":"top","fontSize":3.3,"lineHeight":4},"encoding":{"x":{"datum":57.2,"type":"quantitative","scale":{"domain":[0,100],"nice":false,"zero":false},"axis":null},"y":{"datum":81.4,"type":"quantitative","scale":{"domain":[0,100],"nice":false,"zero":false,"reverse":true},"axis":null}}},
   {"mark":{"type":"text","text":"WAVELENGTH","align":"left","fontSize":5},"encoding":{"x":{"datum":79,"type":"quantitative","scale":{"domain":[0,100],"nice":false,"zero":false},"axis":null},"y":{"datum":26.2,"type":"quantitative","scale":{"domain":[0,100],"nice":false,"zero":false,"reverse":true},"axis":null}}},
   {"mark":{"type":"text","text":"WEIGHT","align":"left","fontSize":5},"encoding":{"x":{"datum":90.4,"type":"quantitative","scale":{"domain":[0,100],"nice":false,"zero":false},"axis":null},"y":{"datum":26.2,"type":"quantitative","scale":{"domain":[0,100],"nice":false,"zero":false,"reverse":true},"axis":null}}},
   {"mark":{"type":"text","text":["656.3 NM","587.6 NM","486.1 NM"],"align":"left","baseline":"top","fontSize":5,"lineHeight":6.9},"encoding":{"x":{"datum":79,"type":"quantitative","scale":{"domain":[0,100],"nice":false,"zero":false},"axis":null},"y":{"datum":35,"type":"quantitative","scale":{"domain":[0,100],"nice":false,"zero":false,"reverse":true},"axis":null}}},
   {"mark":{"type":"text","text":["1","1","1"],"align":"left","baseline":"top","fontSize":5,"lineHeight":6.9},"encoding":{"x":{"datum":93.7,"type":"quantitative","scale":{"domain":[0,100],"nice":false,"zero":false},"axis":null},"y":{"datum":35,"type":"quantitative","scale":{"domain":[0,100],"nice":false,"zero":false,"reverse":true},"axis":null}}}
  ]},
  {"width":302,"height":42,"data":{"values":[{}]},"layer":[
   {"mark":"rule","encoding":{"x":{"datum":41.86,"type":"quantitative","scale":{"domain":[0,100],"nice":false,"zero":false},"axis":null},"y":{"datum":0,"type":"quantitative","scale":{"domain":[0,100],"nice":false,"zero":false,"reverse":true},"axis":null},"y2":{"datum":100}}},
   {"mark":"rule","encoding":{"x":{"datum":78.07,"type":"quantitative","scale":{"domain":[0,100],"nice":false,"zero":false},"axis":null},"y":{"datum":0,"type":"quantitative","scale":{"domain":[0,100],"nice":false,"zero":false,"reverse":true},"axis":null},"y2":{"datum":100}}},
   {"mark":"rule","encoding":{"x":{"datum":0,"type":"quantitative","scale":{"domain":[0,100],"nice":false,"zero":false},"axis":null},"x2":{"datum":41.86},"y":{"datum":73.8,"type":"quantitative","scale":{"domain":[0,100],"nice":false,"zero":false,"reverse":true},"axis":null}}},
   {"mark":{"type":"text","text":"lic_0301","align":"left","fontSize":7.7},"encoding":{"x":{"datum":5.65,"type":"quantitative","scale":{"domain":[0,100],"nice":false,"zero":false},"axis":null},"y":{"datum":13.6,"type":"quantitative","scale":{"domain":[0,100],"nice":false,"zero":false,"reverse":true},"axis":null}}},
   {"mark":{"type":"text","text":"DIFFRACTION MTF","fontSize":5.8},"encoding":{"x":{"datum":21.3,"type":"quantitative","scale":{"domain":[0,100],"nice":false,"zero":false},"axis":null},"y":{"datum":54,"type":"quantitative","scale":{"domain":[0,100],"nice":false,"zero":false,"reverse":true},"axis":null}}},
   {"mark":{"type":"text","text":"POSITION 4","fontSize":5.7},"encoding":{"x":{"datum":18.1,"type":"quantitative","scale":{"domain":[0,100],"nice":false,"zero":false},"axis":null},"y":{"datum":85.7,"type":"quantitative","scale":{"domain":[0,100],"nice":false,"zero":false,"reverse":true},"axis":null}}},
   {"mark":{"type":"text","text":"09-Nov-05","fontSize":6},"encoding":{"x":{"datum":36.4,"type":"quantitative","scale":{"domain":[0,100],"nice":false,"zero":false},"axis":null},"y":{"datum":85.7,"type":"quantitative","scale":{"domain":[0,100],"nice":false,"zero":false,"reverse":true},"axis":null}}},
   {"mark":{"type":"rule","strokeDash":[1.3,4.7],"strokeWidth":1.3},"encoding":{"x":{"datum":43.5,"type":"quantitative","scale":{"domain":[0,100],"nice":false,"zero":false},"axis":null},"x2":{"datum":56.8},"y":{"datum":6.4,"type":"quantitative","scale":{"domain":[0,100],"nice":false,"zero":false,"reverse":true},"axis":null}}},
   {"mark":{"type":"rule","color":"#ff3030","strokeWidth":1.3},"encoding":{"x":{"datum":43.5,"type":"quantitative","scale":{"domain":[0,100],"nice":false,"zero":false},"axis":null},"x2":{"datum":56.8},"y":{"datum":18.3,"type":"quantitative","scale":{"domain":[0,100],"nice":false,"zero":false,"reverse":true},"axis":null}}},
   {"mark":{"type":"rule","color":"#22ee22","strokeWidth":1.3},"encoding":{"x":{"datum":43.5,"type":"quantitative","scale":{"domain":[0,100],"nice":false,"zero":false},"axis":null},"x2":{"datum":56.8},"y":{"datum":27,"type":"quantitative","scale":{"domain":[0,100],"nice":false,"zero":false,"reverse":true},"axis":null}}},
   {"mark":{"type":"rule","color":"#22ee22","strokeWidth":1.6,"strokeDash":[2,6.3]},"encoding":{"x":{"datum":43.5,"type":"quantitative","scale":{"domain":[0,100],"nice":false,"zero":false},"axis":null},"x2":{"datum":56.8},"y":{"datum":36.5,"type":"quantitative","scale":{"domain":[0,100],"nice":false,"zero":false,"reverse":true},"axis":null}}},
   {"mark":{"type":"rule","color":"#2222ff","strokeWidth":1.3},"encoding":{"x":{"datum":43.5,"type":"quantitative","scale":{"domain":[0,100],"nice":false,"zero":false},"axis":null},"x2":{"datum":56.8},"y":{"datum":47.7,"type":"quantitative","scale":{"domain":[0,100],"nice":false,"zero":false,"reverse":true},"axis":null}}},
   {"mark":{"type":"rule","color":"#2222ff","strokeWidth":1.6,"strokeDash":[2,6.3]},"encoding":{"x":{"datum":43.5,"type":"quantitative","scale":{"domain":[0,100],"nice":false,"zero":false},"axis":null},"x2":{"datum":56.8},"y":{"datum":56.4,"type":"quantitative","scale":{"domain":[0,100],"nice":false,"zero":false,"reverse":true},"axis":null}}},
   {"mark":{"type":"rule","color":"#ff9999","strokeWidth":1.3},"encoding":{"x":{"datum":43.5,"type":"quantitative","scale":{"domain":[0,100],"nice":false,"zero":false},"axis":null},"x2":{"datum":56.8},"y":{"datum":65.9,"type":"quantitative","scale":{"domain":[0,100],"nice":false,"zero":false,"reverse":true},"axis":null}}},
   {"mark":{"type":"rule","color":"#ff9999","strokeWidth":1.6,"strokeDash":[2,6.3]},"encoding":{"x":{"datum":43.5,"type":"quantitative","scale":{"domain":[0,100],"nice":false,"zero":false},"axis":null},"x2":{"datum":56.8},"y":{"datum":73.9,"type":"quantitative","scale":{"domain":[0,100],"nice":false,"zero":false,"reverse":true},"axis":null}}},
   {"mark":{"type":"rule","color":"#ff22ff","strokeWidth":1.3},"encoding":{"x":{"datum":43.5,"type":"quantitative","scale":{"domain":[0,100],"nice":false,"zero":false},"axis":null},"x2":{"datum":56.8},"y":{"datum":85,"type":"quantitative","scale":{"domain":[0,100],"nice":false,"zero":false,"reverse":true},"axis":null}}},
   {"mark":{"type":"rule","color":"#ff22ff","strokeWidth":1.6,"strokeDash":[2,6.3]},"encoding":{"x":{"datum":43.5,"type":"quantitative","scale":{"domain":[0,100],"nice":false,"zero":false},"axis":null},"x2":{"datum":56.8},"y":{"datum":93.6,"type":"quantitative","scale":{"domain":[0,100],"nice":false,"zero":false,"reverse":true},"axis":null}}},
   {"mark":{"type":"text","text":["DIFFRACTION LIMIT","AXIS"],"align":"left","baseline":"top","fontSize":4.7,"lineHeight":4.6},"encoding":{"x":{"datum":58.8,"type":"quantitative","scale":{"domain":[0,100],"nice":false,"zero":false},"axis":null},"y":{"datum":1.5,"type":"quantitative","scale":{"domain":[0,100],"nice":false,"zero":false,"reverse":true},"axis":null}}},
   {"mark":{"type":"text","text":"0.7 FIELD ( 14.0°)","align":"left","fontSize":5},"encoding":{"x":{"datum":58.4,"type":"quantitative","scale":{"domain":[0,100],"nice":false,"zero":false},"axis":null},"y":{"datum":31,"type":"quantitative","scale":{"domain":[0,100],"nice":false,"zero":false,"reverse":true},"axis":null}}},
   {"mark":{"type":"text","text":"0.7 FIELD (-14.0°)","align":"left","fontSize":5},"encoding":{"x":{"datum":58.4,"type":"quantitative","scale":{"domain":[0,100],"nice":false,"zero":false},"axis":null},"y":{"datum":51.6,"type":"quantitative","scale":{"domain":[0,100],"nice":false,"zero":false,"reverse":true},"axis":null}}},
   {"mark":{"type":"text","text":"1.0 FIELD ( 20.0°)","align":"left","fontSize":5},"encoding":{"x":{"datum":58.4,"type":"quantitative","scale":{"domain":[0,100],"nice":false,"zero":false},"axis":null},"y":{"datum":70,"type":"quantitative","scale":{"domain":[0,100],"nice":false,"zero":false,"reverse":true},"axis":null}}},
   {"mark":{"type":"text","text":"1.0 FIELD (-20.0°)","align":"left","fontSize":5},"encoding":{"x":{"datum":58.4,"type":"quantitative","scale":{"domain":[0,100],"nice":false,"zero":false},"axis":null},"y":{"datum":88,"type":"quantitative","scale":{"domain":[0,100],"nice":false,"zero":false,"reverse":true},"axis":null}}},
   {"mark":{"type":"text","text":["T","R"],"baseline":"top","fontSize":3.3,"lineHeight":4},"encoding":{"x":{"datum":57.2,"type":"quantitative","scale":{"domain":[0,100],"nice":false,"zero":false},"axis":null},"y":{"datum":23.4,"type":"quantitative","scale":{"domain":[0,100],"nice":false,"zero":false,"reverse":true},"axis":null}}},
   {"mark":{"type":"text","text":["T","R"],"baseline":"top","fontSize":3.3,"lineHeight":4},"encoding":{"x":{"datum":57.2,"type":"quantitative","scale":{"domain":[0,100],"nice":false,"zero":false},"axis":null},"y":{"datum":44,"type":"quantitative","scale":{"domain":[0,100],"nice":false,"zero":false,"reverse":true},"axis":null}}},
   {"mark":{"type":"text","text":["T","R"],"baseline":"top","fontSize":3.3,"lineHeight":4},"encoding":{"x":{"datum":57.2,"type":"quantitative","scale":{"domain":[0,100],"nice":false,"zero":false},"axis":null},"y":{"datum":62.4,"type":"quantitative","scale":{"domain":[0,100],"nice":false,"zero":false,"reverse":true},"axis":null}}},
   {"mark":{"type":"text","text":["T","R"],"baseline":"top","fontSize":3.3,"lineHeight":4},"encoding":{"x":{"datum":57.2,"type":"quantitative","scale":{"domain":[0,100],"nice":false,"zero":false},"axis":null},"y":{"datum":81.4,"type":"quantitative","scale":{"domain":[0,100],"nice":false,"zero":false,"reverse":true},"axis":null}}},
   {"mark":{"type":"text","text":"WAVELENGTH","align":"left","fontSize":5},"encoding":{"x":{"datum":79,"type":"quantitative","scale":{"domain":[0,100],"nice":false,"zero":false},"axis":null},"y":{"datum":26.2,"type":"quantitative","scale":{"domain":[0,100],"nice":false,"zero":false,"reverse":true},"axis":null}}},
   {"mark":{"type":"text","text":"WEIGHT","align":"left","fontSize":5},"encoding":{"x":{"datum":90.4,"type":"quantitative","scale":{"domain":[0,100],"nice":false,"zero":false},"axis":null},"y":{"datum":26.2,"type":"quantitative","scale":{"domain":[0,100],"nice":false,"zero":false,"reverse":true},"axis":null}}},
   {"mark":{"type":"text","text":["656.3 NM","587.6 NM","486.1 NM"],"align":"left","baseline":"top","fontSize":5,"lineHeight":6.9},"encoding":{"x":{"datum":79,"type":"quantitative","scale":{"domain":[0,100],"nice":false,"zero":false},"axis":null},"y":{"datum":35,"type":"quantitative","scale":{"domain":[0,100],"nice":false,"zero":false,"reverse":true},"axis":null}}},
   {"mark":{"type":"text","text":["1","1","1"],"align":"left","baseline":"top","fontSize":5,"lineHeight":6.9},"encoding":{"x":{"datum":93.7,"type":"quantitative","scale":{"domain":[0,100],"nice":false,"zero":false},"axis":null},"y":{"datum":35,"type":"quantitative","scale":{"domain":[0,100],"nice":false,"zero":false,"reverse":true},"axis":null}}}
  ]},
  {"width":301,"height":188,"layer":[
   {"data":{"values":[{}]},"mark":"rule","encoding":{"x":{"datum":0,"type":"quantitative","scale":{"domain":[-1.273,21.273],"nice":false,"zero":false},"title":"SPATIAL FREQUENCY (CYCLES/MM)","axis":{"values":[5,10,15,20],"format":".3f","offset":-16,"tickSize":-4,"tickWidth":1,"labelPadding":5.5,"labelFontSize":4.6,"labelFlush":false,"labelOverlap":false,"titleFontSize":5.9,"titlePadding":0.5}},"y":{"datum":0,"type":"quantitative","scale":{"domain":[-0.098,1.0552],"nice":false,"zero":false},"title":null,"axis":{"values":[0.1,0.2,0.3,0.4,0.5,0.6,0.7,0.8,0.9,1],"labels":false,"offset":-17,"tickSize":2,"tickWidth":1}},"y2":{"datum":1}}},
   {"data":{"values":[{}]},"mark":"rule","encoding":{"x":{"datum":0,"type":"quantitative","scale":{"domain":[-1.273,21.273],"nice":false,"zero":false},"title":"SPATIAL FREQUENCY (CYCLES/MM)"},"x2":{"datum":20},"y":{"datum":0,"type":"quantitative","scale":{"domain":[-0.098,1.0552],"nice":false,"zero":false},"title":null}}},
   {"data":{"name":"yt"},"mark":{"type":"text","align":"right","fontSize":4.5},"encoding":{"x":{"datum":-0.26,"type":"quantitative","scale":{"domain":[-1.273,21.273],"nice":false,"zero":false},"title":"SPATIAL FREQUENCY (CYCLES/MM)"},"y":{"field":"v","type":"quantitative","scale":{"domain":[-0.098,1.0552],"nice":false,"zero":false},"title":null},"text":{"field":"v","type":"quantitative","format":".1f"}}},
   {"data":{"values":[{}]},"mark":{"type":"text","text":"M O D U L A T I O N","angle":270,"fontSize":4.6},"encoding":{"x":{"datum":-0.97,"type":"quantitative","scale":{"domain":[-1.273,21.273],"nice":false,"zero":false},"title":"SPATIAL FREQUENCY (CYCLES/MM)"},"y":{"datum":0.5,"type":"quantitative","scale":{"domain":[-0.098,1.0552],"nice":false,"zero":false},"title":null}}},
   {"data":{"values":[{}]},"mark":{"type":"text","text":"DEFOCUSING 0.00000","align":"right","fontSize":5.7},"encoding":{"x":{"datum":20.75,"type":"quantitative","scale":{"domain":[-1.273,21.273],"nice":false,"zero":false},"title":"SPATIAL FREQUENCY (CYCLES/MM)"},"y":{"datum":1.035,"type":"quantitative","scale":{"domain":[-0.098,1.0552],"nice":false,"zero":false},"title":null}}},
   {"data":{"name":"mtf"},"transform":[{"filter":"datum.p==3"}],"mark":{"type":"line","color":"black","strokeDash":[1.3,4.7],"strokeWidth":1.4,"interpolate":"monotone"},"encoding":{"x":{"field":"f","type":"quantitative","scale":{"domain":[-1.273,21.273],"nice":false,"zero":false},"title":"SPATIAL FREQUENCY (CYCLES/MM)"},"y":{"field":"DL","type":"quantitative","scale":{"domain":[-0.098,1.0552],"nice":false,"zero":false},"title":null}}},
   {"data":{"name":"mtf"},"transform":[{"filter":"datum.p==3"},{"fold":["T1","T2","T3","T4"],"as":["s","m"]}],"mark":{"type":"line","strokeWidth":1.3,"interpolate":"monotone"},"encoding":{"x":{"field":"f","type":"quantitative","scale":{"domain":[-1.273,21.273],"nice":false,"zero":false},"title":"SPATIAL FREQUENCY (CYCLES/MM)"},"y":{"field":"m","type":"quantitative","scale":{"domain":[-0.098,1.0552],"nice":false,"zero":false},"title":null},"color":{"field":"s","type":"nominal","scale":{"domain":["T1","T2","T3","T4","R1","R2","R3","R4"],"range":["#22ee22","#2222ff","#ff9999","#ff22ff","#22ee22","#2222ff","#ff9999","#ff22ff"]},"legend":null}}},
   {"data":{"name":"mtf"},"transform":[{"filter":"datum.p==3"},{"fold":["R1","R2","R3","R4"],"as":["s","m"]}],"mark":{"type":"line","strokeWidth":1.7,"strokeDash":[2.2,6.5],"interpolate":"monotone"},"encoding":{"x":{"field":"f","type":"quantitative","scale":{"domain":[-1.273,21.273],"nice":false,"zero":false},"title":"SPATIAL FREQUENCY (CYCLES/MM)"},"y":{"field":"m","type":"quantitative","scale":{"domain":[-0.098,1.0552],"nice":false,"zero":false},"title":null},"color":{"field":"s","type":"nominal","scale":{"domain":["T1","T2","T3","T4","R1","R2","R3","R4"],"range":["#22ee22","#2222ff","#ff9999","#ff22ff","#22ee22","#2222ff","#ff9999","#ff22ff"]},"legend":null}}},
   {"data":{"name":"mtf"},"transform":[{"filter":"datum.p==3"}],"mark":{"type":"line","color":"#ff3030","strokeWidth":1.3,"interpolate":"monotone"},"encoding":{"x":{"field":"f","type":"quantitative","scale":{"domain":[-1.273,21.273],"nice":false,"zero":false},"title":"SPATIAL FREQUENCY (CYCLES/MM)"},"y":{"field":"AX","type":"quantitative","scale":{"domain":[-0.098,1.0552],"nice":false,"zero":false},"title":null}}}
  ]},
  {"width":302,"height":190,"layer":[
   {"data":{"values":[{}]},"mark":"rule","encoding":{"x":{"datum":0,"type":"quantitative","scale":{"domain":[-1.273,21.273],"nice":false,"zero":false},"title":"SPATIAL FREQUENCY (CYCLES/MM)","axis":{"values":[5,10,15,20],"format":".3f","offset":-16,"tickSize":-4,"tickWidth":1,"labelPadding":5.5,"labelFontSize":4.6,"labelFlush":false,"labelOverlap":false,"titleFontSize":5.9,"titlePadding":0.5}},"y":{"datum":0,"type":"quantitative","scale":{"domain":[-0.0964,1.0482],"nice":false,"zero":false},"title":null,"axis":{"values":[0.1,0.2,0.3,0.4,0.5,0.6,0.7,0.8,0.9,1],"labels":false,"offset":-17,"tickSize":2,"tickWidth":1}},"y2":{"datum":1}}},
   {"data":{"values":[{}]},"mark":"rule","encoding":{"x":{"datum":0,"type":"quantitative","scale":{"domain":[-1.273,21.273],"nice":false,"zero":false},"title":"SPATIAL FREQUENCY (CYCLES/MM)"},"x2":{"datum":20},"y":{"datum":0,"type":"quantitative","scale":{"domain":[-0.0964,1.0482],"nice":false,"zero":false},"title":null}}},
   {"data":{"name":"yt"},"mark":{"type":"text","align":"right","fontSize":4.5},"encoding":{"x":{"datum":-0.26,"type":"quantitative","scale":{"domain":[-1.273,21.273],"nice":false,"zero":false},"title":"SPATIAL FREQUENCY (CYCLES/MM)"},"y":{"field":"v","type":"quantitative","scale":{"domain":[-0.0964,1.0482],"nice":false,"zero":false},"title":null},"text":{"field":"v","type":"quantitative","format":".1f"}}},
   {"data":{"values":[{}]},"mark":{"type":"text","text":"M O D U L A T I O N","angle":270,"fontSize":4.6},"encoding":{"x":{"datum":-0.97,"type":"quantitative","scale":{"domain":[-1.273,21.273],"nice":false,"zero":false},"title":"SPATIAL FREQUENCY (CYCLES/MM)"},"y":{"datum":0.5,"type":"quantitative","scale":{"domain":[-0.0964,1.0482],"nice":false,"zero":false},"title":null}}},
   {"data":{"values":[{}]},"mark":{"type":"text","text":"DEFOCUSING 0.00000","align":"right","fontSize":5.7},"encoding":{"x":{"datum":20.75,"type":"quantitative","scale":{"domain":[-1.273,21.273],"nice":false,"zero":false},"title":"SPATIAL FREQUENCY (CYCLES/MM)"},"y":{"datum":1.036,"type":"quantitative","scale":{"domain":[-0.0964,1.0482],"nice":false,"zero":false},"title":null}}},
   {"data":{"name":"mtf"},"transform":[{"filter":"datum.p==4"}],"mark":{"type":"line","color":"black","strokeDash":[1.3,4.7],"strokeWidth":1.4,"interpolate":"monotone"},"encoding":{"x":{"field":"f","type":"quantitative","scale":{"domain":[-1.273,21.273],"nice":false,"zero":false},"title":"SPATIAL FREQUENCY (CYCLES/MM)"},"y":{"field":"DL","type":"quantitative","scale":{"domain":[-0.0964,1.0482],"nice":false,"zero":false},"title":null}}},
   {"data":{"name":"mtf"},"transform":[{"filter":"datum.p==4"},{"fold":["T1","T2","T3","T4"],"as":["s","m"]}],"mark":{"type":"line","strokeWidth":1.3,"interpolate":"monotone"},"encoding":{"x":{"field":"f","type":"quantitative","scale":{"domain":[-1.273,21.273],"nice":false,"zero":false},"title":"SPATIAL FREQUENCY (CYCLES/MM)"},"y":{"field":"m","type":"quantitative","scale":{"domain":[-0.0964,1.0482],"nice":false,"zero":false},"title":null},"color":{"field":"s","type":"nominal","scale":{"domain":["T1","T2","T3","T4","R1","R2","R3","R4"],"range":["#22ee22","#2222ff","#ff9999","#ff22ff","#22ee22","#2222ff","#ff9999","#ff22ff"]},"legend":null}}},
   {"data":{"name":"mtf"},"transform":[{"filter":"datum.p==4"},{"fold":["R1","R2","R3","R4"],"as":["s","m"]}],"mark":{"type":"line","strokeWidth":1.7,"strokeDash":[2.2,6.5],"interpolate":"monotone"},"encoding":{"x":{"field":"f","type":"quantitative","scale":{"domain":[-1.273,21.273],"nice":false,"zero":false},"title":"SPATIAL FREQUENCY (CYCLES/MM)"},"y":{"field":"m","type":"quantitative","scale":{"domain":[-0.0964,1.0482],"nice":false,"zero":false},"title":null},"color":{"field":"s","type":"nominal","scale":{"domain":["T1","T2","T3","T4","R1","R2","R3","R4"],"range":["#22ee22","#2222ff","#ff9999","#ff22ff","#22ee22","#2222ff","#ff9999","#ff22ff"]},"legend":null}}},
   {"data":{"name":"mtf"},"transform":[{"filter":"datum.p==4"}],"mark":{"type":"line","color":"#ff3030","strokeWidth":1.3,"interpolate":"monotone"},"encoding":{"x":{"field":"f","type":"quantitative","scale":{"domain":[-1.273,21.273],"nice":false,"zero":false},"title":"SPATIAL FREQUENCY (CYCLES/MM)"},"y":{"field":"AX","type":"quantitative","scale":{"domain":[-0.0964,1.0482],"nice":false,"zero":false},"title":null}}}
  ]}
]
}
